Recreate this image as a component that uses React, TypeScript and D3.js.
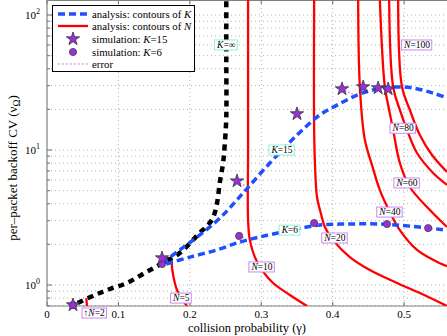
import React, { useEffect, useRef } from "react";
import * as d3 from "d3";

const W = 447;
const H = 336;
const plot = { left: 47, right: 447, top: 0, bottom: 306 };

// analysis: contours of K  -> [gamma, CV]
const kInf = [
  [0.043, 0.736], [0.067, 0.843], [0.088, 0.934], [0.112, 1.035], [0.137, 1.23],
  [0.162, 1.455], [0.186, 1.73], [0.211, 2.35], [0.231, 3.05], [0.238, 4.05],
  [0.242, 5.8], [0.2465, 8.0], [0.249, 11.3], [0.251, 17.5], [0.251, 46], [0.251, 129],
];
const k15 = [
  [0.161, 1.455], [0.186, 1.82], [0.214, 2.35], [0.242, 3.13], [0.2745, 4.8],
  [0.312, 8.01], [0.35, 12.9], [0.382, 18.2], [0.406, 21.5], [0.434, 25.5],
  [0.462, 28.3], [0.49, 29.3], [0.5126, 28.8], [0.5406, 26.4], [0.56, 24.3],
];
const k6 = [
  [0.167, 1.43], [0.2, 1.61], [0.238, 1.82], [0.27, 2.08], [0.298, 2.27],
  [0.336, 2.51], [0.382, 2.78], [0.424, 2.83], [0.466, 2.83], [0.508, 2.73], [0.56, 2.55],
];

// analysis: contours of N
const n2 = [[0.055, 0.8], [0.056, 0.699]];
const n5 = [[0.167, 1.585], [0.174, 1.53], [0.175, 1.34], [0.178, 1.09], [0.182, 0.918], [0.188, 0.8], [0.196, 0.699]];
const n10 = [[0.2815, 129], [0.2815, 10], [0.2815, 3.03], [0.284, 2.15], [0.291, 1.61], [0.301, 1.29], [0.3165, 1.035], [0.34, 0.843], [0.364, 0.699]];
const n20 = [[0.374, 129], [0.374, 14.1], [0.3755, 7.11], [0.378, 4.49], [0.384, 3.3], [0.389, 2.69], [0.4005, 2.15], [0.424, 1.61], [0.452, 1.29], [0.49, 1.035], [0.522, 0.872], [0.56, 0.699]];
const n40 = [[0.4356, 129], [0.438, 29.3], [0.445, 11.9], [0.455, 7.74], [0.466, 5.05], [0.48, 3.47], [0.494, 2.55], [0.518, 1.82], [0.55, 1.45], [0.56, 1.38]];
const n60 = [[0.466, 129], [0.473, 29.3], [0.479, 19.8], [0.4846, 14.1], [0.494, 8.01], [0.508, 5.32], [0.536, 3.59], [0.56, 2.69]];
const n80 = [[0.479, 129], [0.4846, 29.3], [0.494, 19.8], [0.504, 14.1], [0.518, 9.5], [0.5406, 6.76], [0.56, 5.51]];
const n100 = [[0.4916, 129], [0.497, 29.3], [0.508, 19.8], [0.522, 12.9], [0.539, 9.18], [0.56, 6.87]];
const nCurves = [n2, n5, n10, n20, n40, n60, n80, n100];

// simulation points and the analysis value each one is compared with
const simK15 = [[0.0364, 0.711], [0.161, 1.585], [0.266, 5.89], [0.35, 18.5], [0.413, 28.3], [0.4426, 29.3], [0.4636, 28.8], [0.4776, 28.3]];
const simK15Ana = [[0.0364, 0.711], [0.165, 1.5], [0.278, 5.4], [0.356, 17.0], [0.431, 25.5], [0.4426, 29.3], [0.4636, 28.8], [0.4776, 28.3]];
const simK6 = [[0.0364, 0.711], [0.161, 1.43], [0.269, 2.31], [0.374, 2.88], [0.476, 2.83], [0.5336, 2.64]];
const simK6Ana = [[0.0364, 0.711], [0.161, 1.43], [0.277, 2.23], [0.381, 2.8], [0.476, 2.83], [0.543, 2.6]];

const nLabels = [
  { t: "2", at: [0.066, 0.62], arrow: true },
  { t: "5", at: [0.188, 0.8] },
  { t: "10", at: [0.301, 1.36] },
  { t: "20", at: [0.403, 2.23] },
  { t: "40", at: [0.48, 3.47] },
  { t: "60", at: [0.504, 5.7] },
  { t: "80", at: [0.4986, 14.5] },
  { t: "100", at: [0.518, 60] },
];
const kLabels = [
  { t: "\u221e", at: [0.251, 60] },
  { t: "15", at: [0.329, 10] },
  { t: "6", at: [0.34, 2.55] },
];

const xTicks = [0, 0.1, 0.2, 0.3, 0.4, 0.5];
const yDecades = [0, 1, 2];

const BLUE = "#1f4fff";
const RED = "#ff0000";
const PURPLE = "#9a30d8";
const ERR = "#e07cff";
const FONT = "'Liberation Serif', 'Times New Roman', serif";

const App = () => {
  const ref = useRef(null);

  useEffect(() => {
    const svg = d3.select(ref.current);
    svg.selectAll("*").remove();

    const x = d3.scaleLinear().domain([0, 0.56]).range([plot.left, plot.right]);
    const y = d3.scaleLog().domain([0.699, 129.2]).range([plot.bottom, plot.top]);

    svg.append("defs").append("clipPath").attr("id", "clip")
      .append("rect").attr("x", plot.left).attr("y", plot.top)
      .attr("width", plot.right - plot.left + 5).attr("height", plot.bottom - plot.top);

    svg.append("rect").attr("width", W).attr("height", H).attr("fill", "#fff");

    // grid
    const grid = svg.append("g").attr("stroke", "#a0a0a0").attr("stroke-width", 0.8).attr("stroke-dasharray", "1,3");
    xTicks.slice(1).forEach((t) => {
      grid.append("line").attr("x1", x(t)).attr("x2", x(t)).attr("y1", plot.top).attr("y2", plot.bottom);
    });
    const yMinor = [];
    yDecades.forEach((d) => {
      for (let k = 1; k <= 9; k++) {
        const v = k * Math.pow(10, d - 1) * 10;
        if (v >= 0.699 && v <= 129.2) yMinor.push(v);
      }
    });
    [0.7, 0.8, 0.9].forEach((v) => yMinor.push(v));
    yMinor.forEach((v) => {
      grid.append("line").attr("x1", plot.left).attr("x2", plot.right).attr("y1", y(v)).attr("y2", y(v));
    });

    // axes frame and ticks
    const ax = svg.append("g").attr("stroke", "#808080").attr("stroke-width", 1.2);
    ax.append("line").attr("x1", plot.left).attr("x2", plot.left).attr("y1", plot.top).attr("y2", plot.bottom);
    ax.append("line").attr("x1", plot.left).attr("x2", plot.right).attr("y1", plot.bottom).attr("y2", plot.bottom);
    ax.append("line").attr("x1", plot.left).attr("x2", plot.right).attr("y1", 0.5).attr("y2", 0.5);
    xTicks.forEach((t) => {
      ax.append("line").attr("x1", x(t)).attr("x2", x(t)).attr("y1", plot.bottom).attr("y2", plot.bottom - 4);
      ax.append("line").attr("x1", x(t)).attr("x2", x(t)).attr("y1", 0).attr("y2", 4);
    });
    yMinor.forEach((v) => {
      const major = [1, 10, 100].includes(v);
      ax.append("line").attr("x1", plot.left).attr("x2", plot.left + (major ? 5 : 3)).attr("y1", y(v)).attr("y2", y(v));
    });

    // tick labels
    xTicks.forEach((t) => {
      svg.append("text").attr("x", x(t)).attr("y", 318).attr("text-anchor", "middle")
        .attr("font-family", FONT).attr("font-size", 11).text(d3.format("")(t));
    });
    yDecades.forEach((d) => {
      const tx = svg.append("text").attr("x", 40).attr("y", y(Math.pow(10, d)) + 4).attr("text-anchor", "end")
        .attr("font-family", FONT).attr("font-size", 11);
      tx.append("tspan").text("10");
      tx.append("tspan").attr("dy", -5).attr("font-size", 8).text(String(d));
    });

    // axis titles
    svg.append("text").attr("x", 247).attr("y", 332).attr("text-anchor", "middle")
      .attr("font-family", FONT).attr("font-size", 12.5).text("collision probability (\u03b3)");
    const yl = svg.append("text").attr("transform", "translate(17,168) rotate(-90)").attr("text-anchor", "middle")
      .attr("font-family", FONT).attr("font-size", 13);
    yl.append("tspan").text("per\u2013packet backoff CV (\u03bd");
    yl.append("tspan").attr("dy", 3).attr("font-size", 9.5).text("\u03a9");
    yl.append("tspan").attr("dy", -3).text(")");

    const line = d3.line().x((d) => x(d[0])).y((d) => y(d[1])).curve(d3.curveCatmullRom.alpha(0.5));
    const body = svg.append("g").attr("clip-path", "url(#clip)");

    // N contours
    nCurves.forEach((c) => {
      body.append("path").attr("d", line(c)).attr("fill", "none").attr("stroke", RED).attr("stroke-width", 2.3);
    });
    // K contours
    body.append("path").attr("d", line(kInf)).attr("fill", "none").attr("stroke", "#000")
      .attr("stroke-width", 4.5).attr("stroke-dasharray", "6,5");
    [k15, k6].forEach((c) => {
      body.append("path").attr("d", line(c)).attr("fill", "none").attr("stroke", BLUE)
        .attr("stroke-width", 3.5).attr("stroke-dasharray", "7,4");
    });

    // error segments
    const errs = [
      ...simK15.map((p, i) => [p, simK15Ana[i]]),
      ...simK6.map((p, i) => [p, simK6Ana[i]]),
    ];
    errs.forEach(([a, b]) => {
      body.append("line").attr("x1", x(a[0])).attr("y1", y(a[1])).attr("x2", x(b[0])).attr("y2", y(b[1]))
        .attr("stroke", ERR).attr("stroke-width", 1.5).attr("stroke-dasharray", "1.5,2");
    });

    // simulation markers
    const star = d3.symbol().type(d3.symbolStar).size(55);
    svg.append("g").selectAll("circle").data(simK6).join("circle")
      .attr("cx", (d) => x(d[0])).attr("cy", (d) => y(d[1])).attr("r", 3.6)
      .attr("fill", PURPLE).attr("stroke", "#444").attr("stroke-width", 0.8);
    svg.append("g").selectAll("path").data(simK15).join("path")
      .attr("d", star).attr("transform", (d) => `translate(${x(d[0])},${y(d[1])})`)
      .attr("fill", PURPLE).attr("stroke", "#333").attr("stroke-width", 0.8);

    // contour labels
    const addLabel = (px, py, border, parts) => {
      const g = svg.append("g").attr("transform", `translate(${px},${py})`);
      const rect = g.append("rect");
      const t = g.append("text").attr("text-anchor", "middle").attr("dominant-baseline", "central")
        .attr("font-family", FONT).attr("font-size", 9.5);
      parts.forEach(([s, it]) => t.append("tspan").attr("font-style", it ? "italic" : "normal").text(s));
      const bb = t.node().getBBox();
      rect.attr("x", bb.x - 1.5).attr("y", bb.y).attr("width", bb.width + 3).attr("height", bb.height)
        .attr("fill", "#fff").attr("stroke", border).attr("stroke-width", 1);
    };
    nLabels.forEach((l) => {
      const parts = l.arrow ? [["\u2191", false], ["N", true], ["=" + l.t, false]] : [["N", true], ["=" + l.t, false]];
      addLabel(x(l.at[0]), y(l.at[1]), "#cc88f0", parts);
    });
    kLabels.forEach((l) => addLabel(x(l.at[0]), y(l.at[1]), "#8ff0dc", [["K", true], ["=" + l.t, false]]));

    // legend
    const lg = svg.append("g");
    lg.append("rect").attr("x", 52.5).attr("y", 5.5).attr("width", 142).attr("height", 66)
      .attr("fill", "#fff").attr("stroke", "#000").attr("stroke-width", 1);
    const rows = [14, 26, 39, 52, 64];
    lg.append("line").attr("x1", 58).attr("x2", 88).attr("y1", rows[0]).attr("y2", rows[0])
      .attr("stroke", BLUE).attr("stroke-width", 3.5).attr("stroke-dasharray", "7,4");
    lg.append("line").attr("x1", 58).attr("x2", 88).attr("y1", rows[1]).attr("y2", rows[1])
      .attr("stroke", RED).attr("stroke-width", 2.3);
    lg.append("path").attr("d", star()).attr("transform", `translate(73,${rows[2]})`)
      .attr("fill", PURPLE).attr("stroke", "#333").attr("stroke-width", 0.8);
    lg.append("circle").attr("cx", 73).attr("cy", rows[3]).attr("r", 3.6)
      .attr("fill", PURPLE).attr("stroke", "#444").attr("stroke-width", 0.8);
    lg.append("line").attr("x1", 58).attr("x2", 88).attr("y1", rows[4]).attr("y2", rows[4])
      .attr("stroke", ERR).attr("stroke-width", 1.5).attr("stroke-dasharray", "1.5,2.5");
    const texts = [
      [["analysis: contours of ", false], ["K", true]],
      [["analysis: contours of ", false], ["N", true]],
      [["simulation: ", false], ["K", true], ["=15", false]],
      [["simulation: ", false], ["K", true], ["=6", false]],
      [["error", false]],
    ];
    texts.forEach((parts, i) => {
      const t = lg.append("text").attr("x", 92).attr("y", rows[i] + 3.5)
        .attr("font-family", FONT).attr("font-size", 10.8);
      parts.forEach(([s, it]) => t.append("tspan").attr("font-style", it ? "italic" : "normal").text(s));
    });
  }, []);

  return (
    <svg ref={ref} width={W} height={H} style={{ position: "absolute", left: 0, top: 0 }}></svg>
  );
};

export default App;
